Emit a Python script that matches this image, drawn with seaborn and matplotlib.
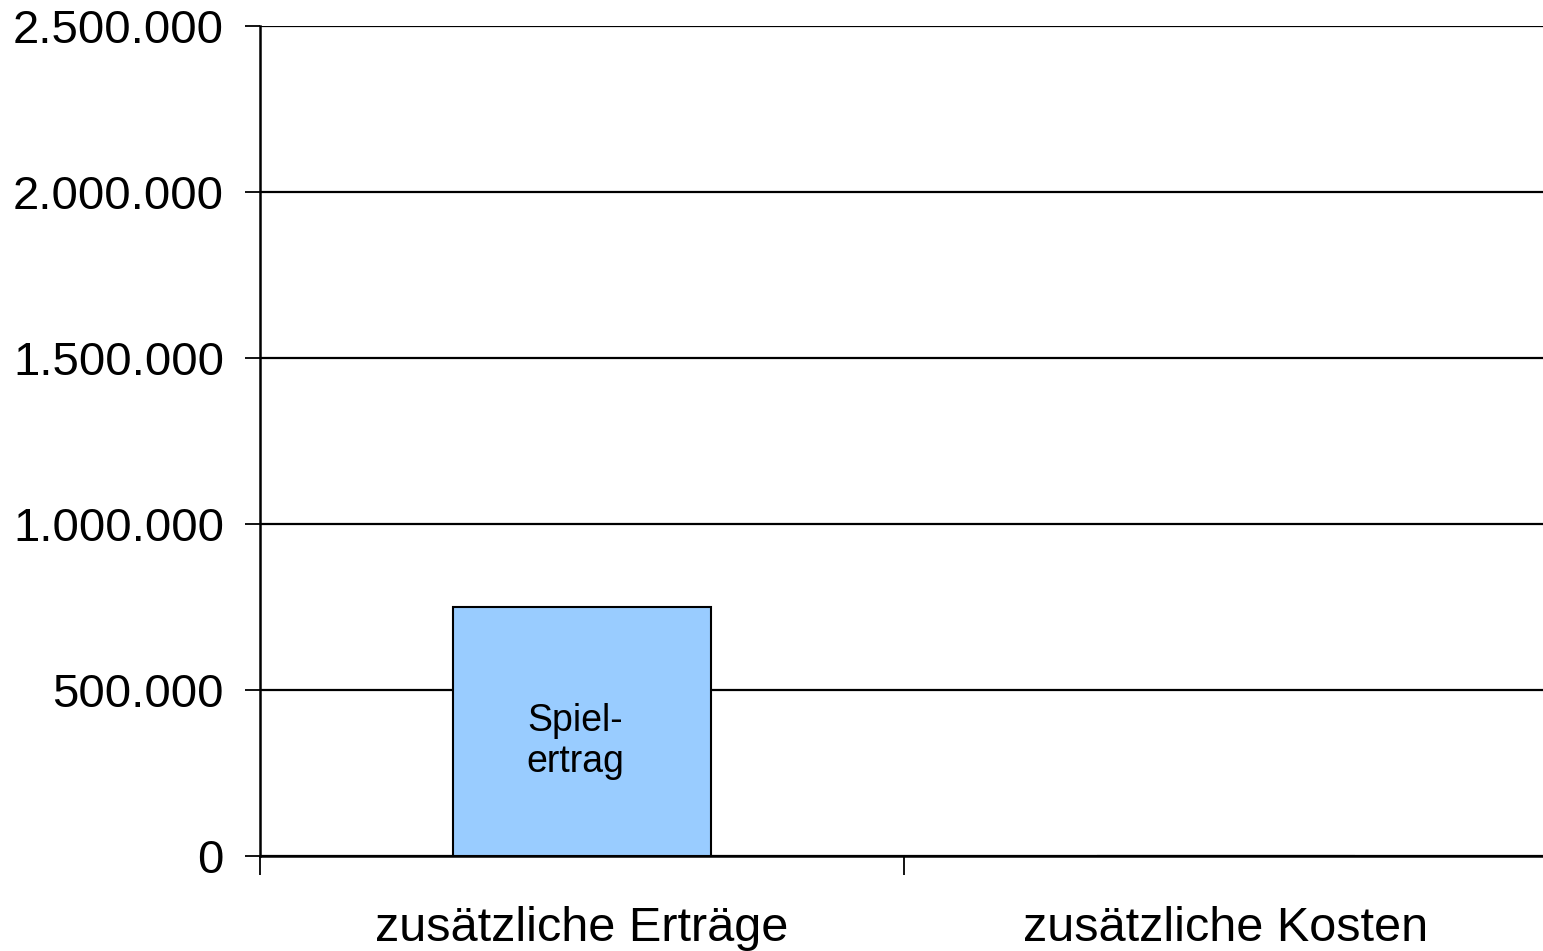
import numpy as np
import pandas as pd
import matplotlib
matplotlib.use("Agg")
import matplotlib.pyplot as plt
from matplotlib.ticker import FuncFormatter, FixedLocator
import seaborn as sns

categories = ["zusätzliche Erträge", "zusätzliche Kosten"]
values = [750000, 0]
bar_labels = ["Spiel-\nertrag", ""]
y_ticks = [0, 500000, 1000000, 1500000, 2000000, 2500000]

sns.set_theme(style="white")
plt.rcParams["font.family"] = ["Liberation Sans", "DejaVu Sans"]

df = pd.DataFrame({"cat": categories, "val": values})

fig = plt.figure(figsize=(15.43, 9.51), dpi=100)
ax = fig.add_axes([260 / 1543, 1 - 856 / 951, (1548 - 260) / 1543, (856 - 26) / 951])

ax.set_ylim(0, 2500000)
ax.set_yticks(y_ticks)
ax.yaxis.grid(True, color="black", linewidth=1.6)
ax.set_axisbelow(True)

sns.barplot(data=df, x="cat", y="val", order=categories, color="#99CCFF",
            width=0.4, edgecolor="black", linewidth=1.5, saturation=1, ax=ax)
ax.set_xlim(-0.5, 1.5)

for i, (v, lab) in enumerate(zip(values, bar_labels)):
    if lab:
        ax.text(i - 0.01, v / 2 - 30000, lab, ha="center", va="center",
                fontsize=27, color="black", linespacing=1.15)

ax.yaxis.set_major_formatter(FuncFormatter(lambda x, p: f"{int(x):,}".replace(",", ".")))
ax.tick_params(axis="y", which="major", length=11, width=1.3, color="black",
               direction="out", left=True, pad=15, labelsize=34, labelcolor="black")
ax.tick_params(axis="x", which="major", length=0, pad=36, labelsize=35, labelcolor="black")
ax.xaxis.set_minor_locator(FixedLocator([-0.5, 0.5, 1.5]))
ax.tick_params(axis="x", which="minor", length=14, width=1.3, color="black",
               direction="out", bottom=True)

ax.set_xlabel("")
ax.set_ylabel("")
for side in ["top", "right"]:
    ax.spines[side].set_visible(False)
for side in ["left", "bottom"]:
    ax.spines[side].set_color("black")
    ax.spines[side].set_linewidth(1.8)

fig.savefig("out.png", dpi=100, facecolor="white")
